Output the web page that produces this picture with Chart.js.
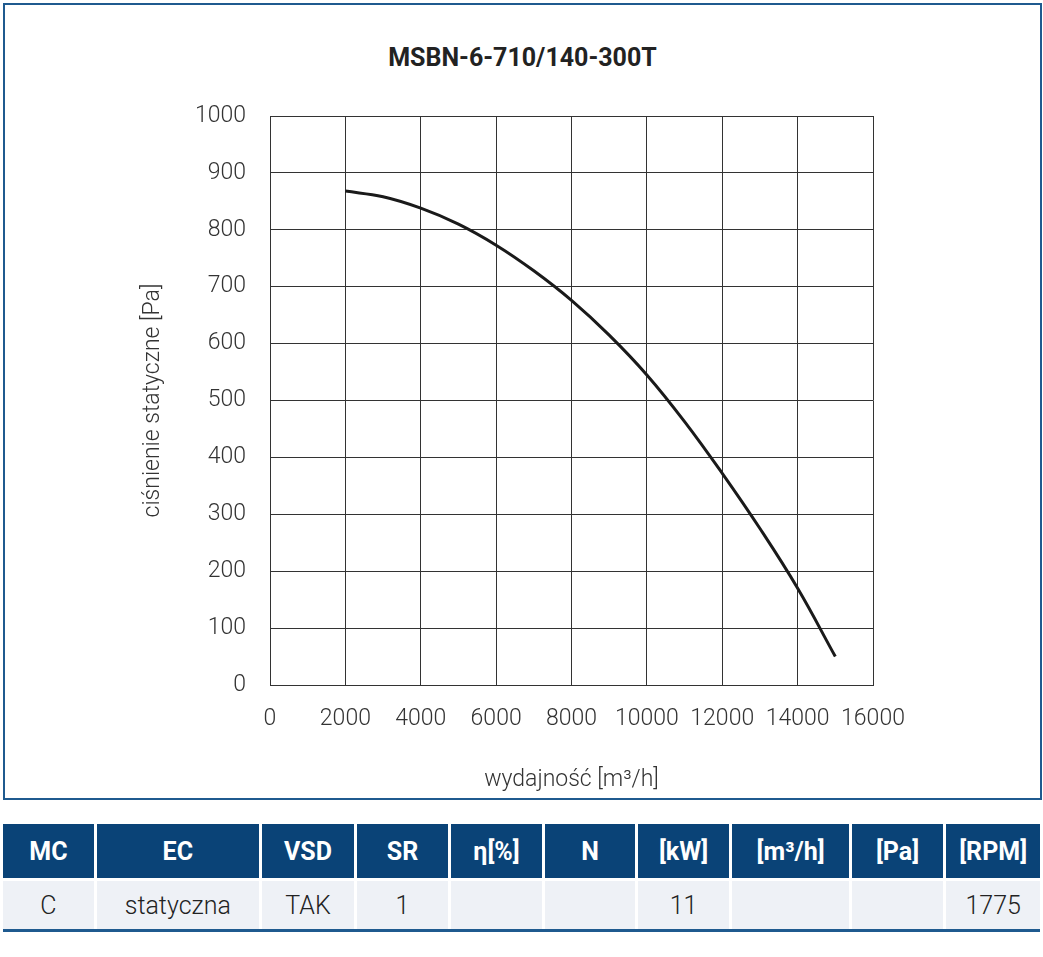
<!DOCTYPE html>
<html><head><meta charset="utf-8">
<script src="https://cdn.jsdelivr.net/npm/chart.js@4"></script>
<style>
body{margin:0;background:#fff;font-family:Roboto,sans-serif;}
#box{position:absolute;left:3px;top:3px;width:1035px;height:793px;border:2px solid #1f5a8f;}
#title{position:absolute;left:0;width:100%;top:38px;text-align:center;font-weight:700;font-size:25px;color:#222;}
#wrap{position:absolute;left:0;top:0;width:1035px;height:793px;}
table{position:absolute;left:3px;top:824px;width:1037px;border-collapse:collapse;font-size:25px;}
th{background:#0a4377;color:#fff;height:52px;font-weight:700;border-left:3px solid #fff;}
td{background:#eef1f6;color:#222;height:46px;text-align:center;font-weight:300;border-left:3px solid #fff;border-top:3px solid #fff;border-bottom:3px solid #1f5a8f;}
th:first-child,td:first-child{border-left:none;}
</style></head><body>
<div id="box"><div id="title">MSBN-6-710/140-300T</div><div id="wrap"><canvas id="c"></canvas></div></div>
<table><tr id="h"></tr><tr id="d"></tr></table>
<script>
const flow = [2000, 3000, 4000, 5000, 6000, 7000, 8000, 9000, 10000, 11000, 12000, 13000, 14000, 15000];
const pressure = [868, 858, 838, 810, 773, 728, 676, 615, 545, 463, 372, 275, 170, 50];
const headers = ["MC","EC","VSD","SR","η[%]","N","[kW]","[m³/h]","[Pa]","[RPM]"];
const values = ["C","statyczna","TAK","1","","","11","","","1775"];
const colWidths = [94,165,95,94,94,94,94,119,94,94];

headers.forEach((t,i)=>{const th=document.createElement("th");th.textContent=t;th.style.width=colWidths[i]+"px";document.getElementById("h").appendChild(th);});
values.forEach(t=>{const td=document.createElement("td");td.textContent=t;document.getElementById("d").appendChild(td);});

const tickFont = {family:"Roboto", size:23, weight:300};
new Chart(document.getElementById("c"), {
  type:"line",
  data:{datasets:[{data:flow.map((x,i)=>({x, y:pressure[i]})), borderColor:"#1a1a1a", borderWidth:3, pointRadius:0, tension:0.4, fill:false}]},
  options:{
    responsive:true, maintainAspectRatio:false, animation:false,
    layout:{padding:{top:111,right:167,left:134,bottom:0}},
    plugins:{legend:{display:false}, tooltip:{enabled:false}},
    scales:{
      x:{type:"linear", min:0, max:16000,
        ticks:{stepSize:2000, color:"#333", font:tickFont, padding:20, maxRotation:0, callback:v=>String(v)},
        grid:{color:"#333", lineWidth:1, drawTicks:false}, border:{color:"#333"},
        title:{display:true, text:"wydajność [m³/h]", color:"#333", font:tickFont, padding:{top:6}},
        afterFit:s=>{s.height=113;}},
      y:{min:0, max:1000,
        ticks:{stepSize:100, color:"#333", font:tickFont, padding:24, callback:v=>String(v)},
        grid:{color:"#333", lineWidth:1, drawTicks:false}, border:{color:"#333"},
        title:{display:true, text:"ciśnienie statyczne [Pa]", color:"#333", font:tickFont, padding:0},
        afterFit:s=>{s.width=131;}}
    }
  }
});
</script>
</body></html>
